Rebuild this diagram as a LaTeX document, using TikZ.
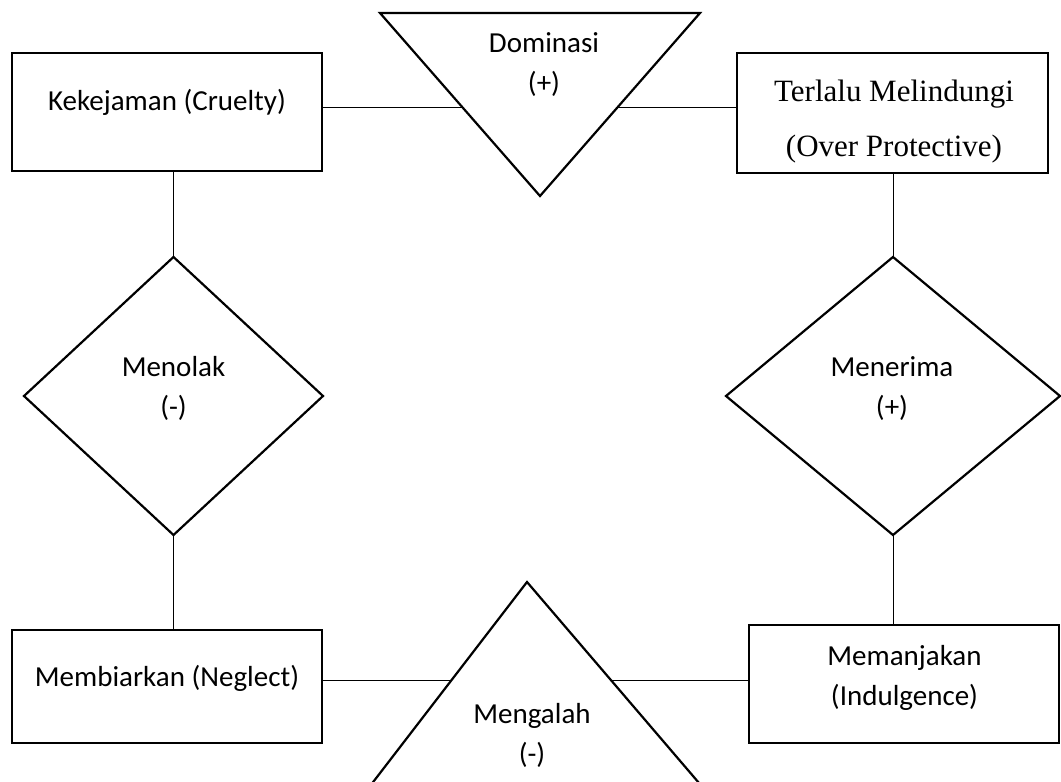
\documentclass[tikz,border=0pt]{standalone}
\usepackage{fontspec}
\setmainfont{Carlito}
\newfontfamily\timesf{Liberation Serif}
\usetikzlibrary{shapes.geometric,calc}
\begin{document}
\begin{tikzpicture}[x=1pt,y=-1pt,
 box/.style={draw,line width=2.2pt,fill=white,inner sep=0,outer sep=0},
 dia/.style={draw,line width=2.2pt,fill=white,shape=diamond,inner sep=0,outer sep=0},
 tri/.style={draw,line width=2.2pt,fill=white,line join=miter},
 link/.style={line width=1pt},
 lbl/.style={font=\fontsize{29}{40}\selectfont,align=center,anchor=base,inner sep=0},
 lbls/.style={font=\timesf\fontsize{31}{55}\selectfont,align=center,anchor=base,inner sep=0}]
\clip (0,0) rectangle (1061,782);
\fill[white] (0,0) rectangle (1061,782);
% boxes
\node[box,minimum width=310pt,minimum height=118pt] (R1) at (167,112) {};
\node[box,minimum width=311pt,minimum height=120pt] (R2) at (892.5,113) {};
\node[box,minimum width=310pt,minimum height=113pt] (R3) at (167,686.5) {};
\node[box,minimum width=310pt,minimum height=118pt] (R4) at (904,684) {};
% diamonds
\node[dia,minimum width=299pt,minimum height=278pt] (D1) at (173.5,396) {};
\node[dia,minimum width=334pt,minimum height=278pt] (D2) at (893,396) {};
% connectors
\draw[link] ([yshift=5pt]R1.east) -- ([yshift=5pt]R1.east -| R2.west);
\draw[link] ([yshift=6.5pt]R3.east) -- ([yshift=6.5pt]R3.east -| R4.west);
\draw[link] (D1.north) -- (D1.north |- R1.south);
\draw[link] (D1.south) -- (D1.south |- R3.north);
\draw[link] (D2.north) -- (D2.north |- R2.south);
\draw[link] (D2.south) -- (D2.south |- R4.north);
% triangles
\coordinate (T1l) at (380,13);
\coordinate (T1r) at (700,13);
\coordinate (T1b) at (540,196);
\filldraw[tri] (T1l) -- (T1r) -- (T1b) -- cycle;
\coordinate (T2t) at (527,582);
\coordinate (T2l) at (367,790);
\coordinate (T2r) at (705,790);
\filldraw[tri] (T2t) -- (T2r) -- (T2l) -- cycle;
% labels (anchor = baseline of the last line)
\node[lbl] (L1) at (167,110) {Kekejaman (Cruelty)};
\node[lbls] (L2) at (894,156) {Terlalu Melindungi\\(Over Protective)};
\node[lbl] (L3) at (544,92) {Dominasi\\(+)};
\node[lbl] (L4) at (173.5,416) {Menolak\\(-)};
\node[lbl] (L5) at (892,416) {Menerima\\(+)};
\node[lbl] (L6) at (167,686) {Membiarkan (Neglect)};
\node[lbl] (L7) at (532,763) {Mengalah\\(-)};
\node[lbl] (L8) at (904.5,705) {Memanjakan\\(Indulgence)};
\end{tikzpicture}
\end{document}
